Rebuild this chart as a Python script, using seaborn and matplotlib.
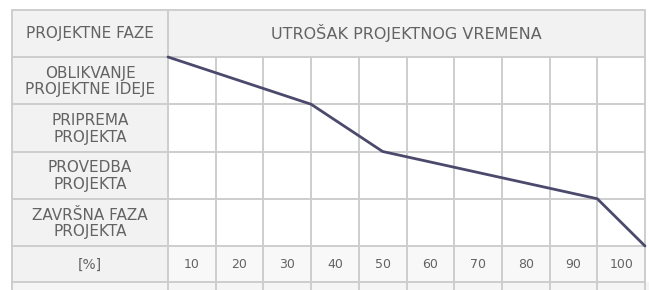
import numpy as np
import pandas as pd
import seaborn as sns
from matplotlib import pyplot as plt
from matplotlib.patches import Rectangle

# data
phases = ["OBLIKVANJE\nPROJEKTNE IDEJE", "PRIPREMA\nPROJEKTA",
          "PROVEDBA\nPROJEKTA", "ZAVRŠNA FAZA\nPROJEKTA"]
percent_ticks = [10, 20, 30, 40, 50, 60, 70, 80, 90, 100]
time_pct = [0, 30, 45, 90, 100]      # cumulative time at end of each phase
phase_step = [0, 1, 2, 3, 4]         # row boundary reached

header_left = "PROJEKTNE FAZE"
header_right = "UTROŠAK PROJEKTNOG VREMENA"
unit_label = "[%]"

sns.set_theme(style="white")
plt.rcParams['font.family'] = ['DejaVu Sans']

fig = plt.figure(figsize=(6.49, 2.90), dpi=100)
ax = fig.add_axes([0, 0, 1, 1])

# pixel -> data mapping (x: 4.77 px per %, y: 47.25 px per row)
px_x, px_y = 4.77, 47.25
x0, y0 = 168, 57
xlim = (-x0 / px_x, (649 - x0) / px_x)
ylim = ((290 - y0) / px_y, -y0 / px_y)

left = -(x0 - 12) / px_x
top = -1.0
bottom = 4.76
right = 100

grid_c = "#cdcdcd"
txt_c = "#636363"
shade = "#f2f2f2"

# shaded cells
ax.add_patch(Rectangle((left, top), right - left, 1, facecolor=shade, edgecolor="none", zorder=0))
ax.add_patch(Rectangle((left, 0), -left, bottom, facecolor=shade, edgecolor="none", zorder=0))
ax.add_patch(Rectangle((0, 4), right, bottom - 4, facecolor="#f8f8f8", edgecolor="none", zorder=0))
ax.add_patch(Rectangle((left, bottom), right - left + 2, 1, facecolor="#f5f5f5", edgecolor="none", zorder=0))

# grid lines
for r in [top, 0, 1, 2, 3, 4, bottom]:
    ax.plot([left, right], [r, r], color=grid_c, lw=1.4, zorder=1)
ax.plot([left, left], [top, bottom + 1], color=grid_c, lw=1.4, zorder=1)
ax.plot([0, 0], [top, bottom + 1], color=grid_c, lw=1.4, zorder=1)
for v in percent_ticks:
    ytop = top if v == 100 else 0
    ax.plot([v, v], [ytop, bottom + 1], color=grid_c, lw=1.4, zorder=1)

# texts
ax.text(left / 2, -0.5, header_left, ha="center", va="center", fontsize=11, color=txt_c)
ax.text(50, -0.5, header_right, ha="center", va="center", fontsize=11.5, color=txt_c)
for i, p in enumerate(phases):
    ax.text(left / 2, i + 0.52, p, ha="center", va="center", fontsize=11,
            color=txt_c, linespacing=1.12)
ax.text(left / 2, 4.4, unit_label, ha="center", va="center", fontsize=10, color=txt_c)
for v in percent_ticks:
    ax.text(v - 5, 4.4, str(v), ha="center", va="center", fontsize=9, color=txt_c)

# time line
df = pd.DataFrame({"pct": time_pct, "row": phase_step})
sns.lineplot(data=df, x="pct", y="row", sort=False, color="#4b4a6c", lw=2, ax=ax, zorder=3)
ax.set_xlim(*xlim)
ax.set_ylim(*ylim)
ax.axis("off")

fig.savefig("out.png", dpi=100, facecolor="white")
